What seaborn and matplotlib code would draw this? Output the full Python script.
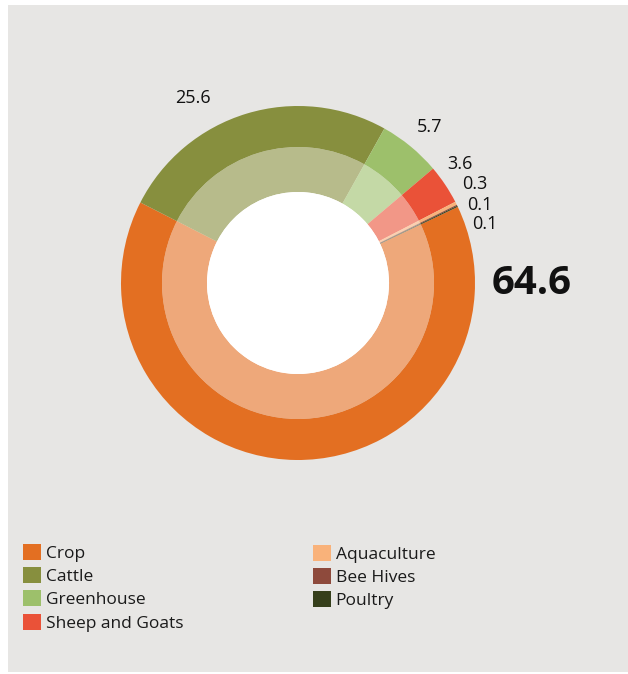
import matplotlib
matplotlib.use("Agg")
import matplotlib.pyplot as plt
from matplotlib.patches import Rectangle, Circle, Patch
import seaborn as sns

# Share of farms by activity (%)
categories = ["Crop", "Cattle", "Greenhouse", "Sheep and Goats",
              "Aquaculture", "Bee Hives", "Poultry"]
values = [64.6, 25.6, 5.7, 3.6, 0.3, 0.1, 0.1]
value_labels = ["64.6", "25.6", "5.7", "3.6", "0.3", "0.1", "0.1"]
colors = ["#e36f22", "#878f3e", "#9dc06b", "#ea5238",
          "#f9b27a", "#8e4a3c", "#363f1b"]

sns.set_style("white")
plt.rcParams["font.family"] = ["Open Sans", "DejaVu Sans"]

W, H = 628, 674
fig = plt.figure(figsize=(W / 100, H / 100), dpi=100, facecolor="white")
ax = fig.add_axes([0, 0, 1, 1])

# panel background
ax.add_patch(Rectangle((8, 2), W - 8, H - 7, facecolor="#e7e6e4",
                       edgecolor="none", zorder=0))

center = (298, H - 283)
start = 25.5

# outer ring
ax.pie(values, colors=colors, radius=177, center=center, startangle=start,
       counterclock=False, wedgeprops=dict(width=41, linewidth=0),
       frame=True)
# white base so the inner tint reads as a lighter shade
ax.add_patch(Circle(center, 136, facecolor="white", edgecolor="none",
                    zorder=0.5))
# inner ring: same shares, lighter tint
ax.pie(values, colors=colors, radius=136, center=center, startangle=start,
       counterclock=False,
       wedgeprops=dict(width=45, alpha=0.6, linewidth=0), frame=True)
ax.add_patch(Circle(center, 91, facecolor="white", edgecolor="none", zorder=3))

# value labels (label anchors in pixel space)
label_pos = [(532, 284), (193, 98), (430, 127), (460, 164),
             (475, 184), (480, 205), (485, 224)]
for i, (txt, (x, y)) in enumerate(zip(value_labels, label_pos)):
    if i == 0:
        ax.text(x, H - y, txt, ha="center", va="center", fontsize=29,
                fontweight="bold", color="#111111", zorder=5)
    else:
        ax.text(x, H - y, txt, ha="center", va="center", fontsize=13,
                color="#111111", zorder=5)

ax.set_xlim(0, W)
ax.set_ylim(0, H)
ax.set_aspect("equal")
ax.axis("off")

handles = [Patch(facecolor=c, edgecolor="none", label=l)
           for c, l in zip(colors, categories)]
common = dict(frameon=False, fontsize=12.5, handlelength=1.05,
              handleheight=1.05, handletextpad=0.25, labelspacing=0.3,
              borderpad=0, borderaxespad=0, labelcolor="#1a1a1a")
leg1 = fig.legend(handles=handles[:4], loc="upper left",
                  bbox_to_anchor=(23 / W, 1 - 544 / H), **common)
leg2 = fig.legend(handles=handles[4:], loc="upper left",
                  bbox_to_anchor=(313 / W, 1 - 545 / H), **common)

fig.savefig("out.png", dpi=100, facecolor="white")
